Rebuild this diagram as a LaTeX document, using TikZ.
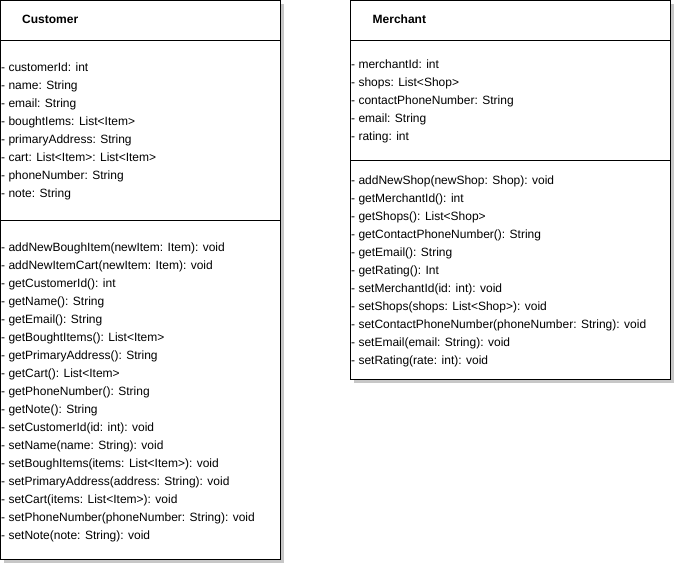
\documentclass[tikz,border=0pt]{standalone}
\usepackage{fontspec}
\setmainfont{Liberation Sans}
\usetikzlibrary{shadows}

\begin{document}
\begin{tikzpicture}[x=1pt, y=-1pt,
    classbox/.style={draw=black, line width=1pt, fill=white,
        drop shadow={shadow xshift=3pt, shadow yshift=-3pt, fill=black!22, opacity=1}},
    member/.style={anchor=base west, inner sep=0pt, font=\fontsize{12}{14}\selectfont},
    classname/.style={member, font=\fontsize{12}{14}\selectfont\bfseries}]

    \useasboundingbox (0,0) rectangle (675,565);

    \def \cl {0.5};
    \def \cr {280.5};
    \def \ml {350.5};
    \def \mr {670.5};

    % Customer
    \draw[classbox] (\cl, 0.5) rectangle (\cr, 559.5);
    \draw[line width=1pt] (\cl, 40.5) -- (\cr, 40.5);
    \draw[line width=1pt] (\cl, 220.5) -- (\cr, 220.5);

    \node[classname] (customer) at (22, 23.5) {Customer};

    \foreach \txt [count=\i] in {customerId: int, name: String, email: String,
        boughtIems: List<Item>, primaryAddress: String, cart: List<Item>: List<Item>,
        phoneNumber: String, note: String}
            \node[member] (cattr\i) at (1, 53 + 18*\i) {- \txt};

    \foreach \txt [count=\i] in {addNewBoughItem(newItem: Item): void,
        addNewItemCart(newItem: Item): void, getCustomerId(): int, getName(): String,
        getEmail(): String, getBoughtItems(): List<Item>, getPrimaryAddress(): String,
        getCart(): List<Item>, getPhoneNumber(): String, getNote(): String,
        setCustomerId(id: int): void, setName(name: String): void,
        setBoughItems(items: List<Item>): void, setPrimaryAddress(address: String): void,
        setCart(items: List<Item>): void, setPhoneNumber(phoneNumber: String): void,
        setNote(note: String): void}
            \node[member] (cop\i) at (1, 233 + 18*\i) {- \txt};

    % Merchant
    \draw[classbox] (\ml, 0.5) rectangle (\mr, 379.5);
    \draw[line width=1pt] (\ml, 40.5) -- (\mr, 40.5);
    \draw[line width=1pt] (\ml, 160.5) -- (\mr, 160.5);

    \node[classname] (merchant) at (372.5, 23.5) {Merchant};

    \foreach \txt [count=\i] in {merchantId: int, shops: List<Shop>,
        contactPhoneNumber: String, email: String, rating: int}
            \node[member] (mattr\i) at (351, 50 + 18*\i) {- \txt};

    \foreach \txt [count=\i] in {addNewShop(newShop: Shop): void, getMerchantId(): int,
        getShops(): List<Shop>, getContactPhoneNumber(): String, getEmail(): String,
        getRating(): Int, setMerchantId(id: int): void, setShops(shops: List<Shop>): void,
        setContactPhoneNumber(phoneNumber: String): void, setEmail(email: String): void,
        setRating(rate: int): void}
            \node[member] (mop\i) at (351, 166 + 18*\i) {- \txt};

\end{tikzpicture}
\end{document}
